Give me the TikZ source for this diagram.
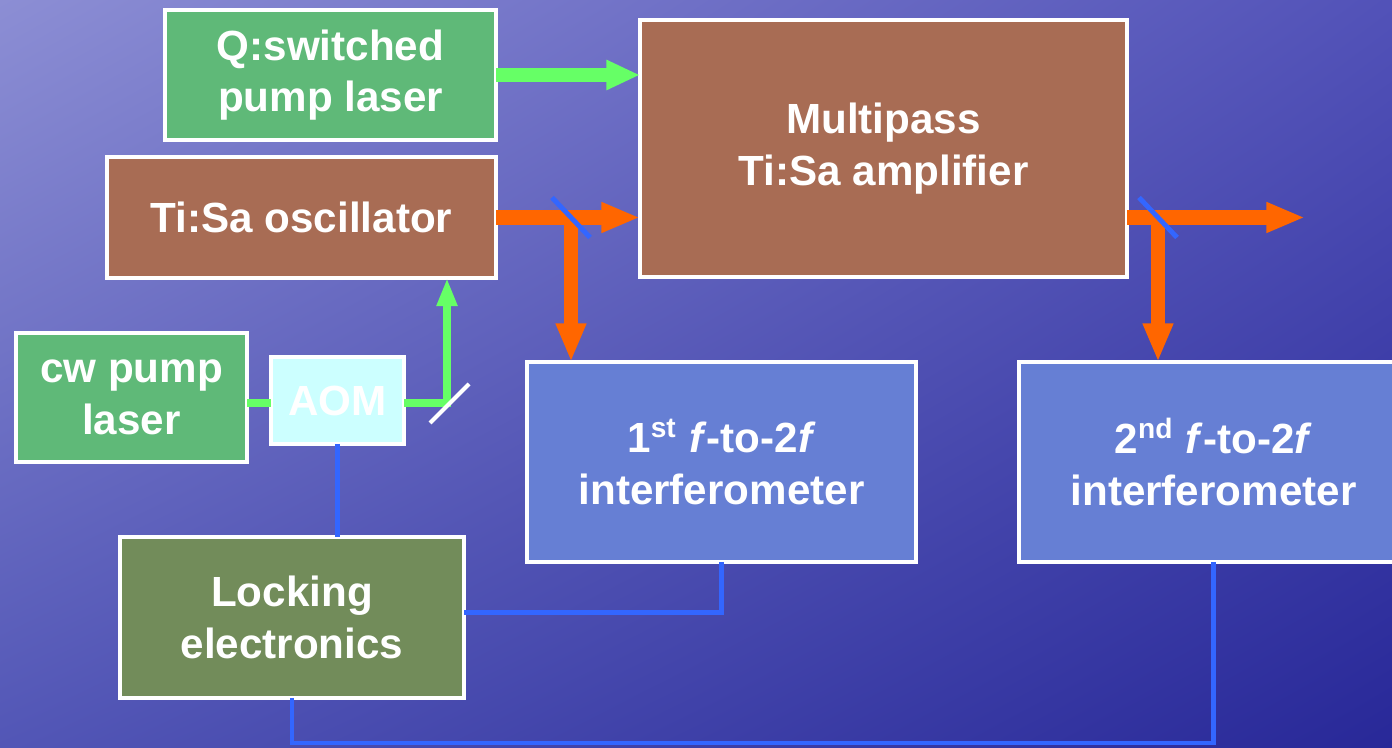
\documentclass[tikz,border=0pt]{standalone}
\usepackage{fontspec}
\setmainfont{Liberation Sans}
\usepackage{tikz}
\usepackage{xcolor}
\usetikzlibrary{arrows.meta,positioning,shadings}
\definecolor{bgul}{RGB}{140,142,212}
\definecolor{bgur}{RGB}{82,82,184}
\definecolor{bgll}{RGB}{82,86,182}
\definecolor{bglr}{RGB}{40,40,152}
\definecolor{pumpgreen}{RGB}{95,185,120}
\definecolor{tisaorange}{RGB}{168,108,84}
\definecolor{interblue}{RGB}{102,127,212}
\definecolor{lockolive}{RGB}{114,140,90}
\definecolor{aomcyan}{RGB}{204,255,255}
\definecolor{beamgreen}{RGB}{102,255,102}
\definecolor{beamorange}{RGB}{255,102,0}
\definecolor{wireblue}{RGB}{51,102,255}
\tikzstyle{block} = [
    rectangle,
    draw=white,
    line width=1.2pt,
    inner sep=0pt,
    outer sep=0pt,
    text=white,
    align=center,
    font=\bfseries\fontsize{12}{14.7}\selectfont
]
\tikzstyle{greenbeam} = [
    line width=4pt,
    draw=beamgreen,
    -{Triangle[length=9.6pt,width=8pt]}
]
\tikzstyle{pumpbeam} = [
    line width=2.3pt,
    draw=beamgreen
]
\tikzstyle{orangebeam} = [
    line width=4pt,
    draw=beamorange,
    -{Triangle[length=11pt,width=8pt]}
]
\tikzstyle{wire} = [
    line width=1.2pt,
    draw=wireblue
]
\tikzstyle{mirror} = [
    line width=1.4pt,
    draw=wireblue
]
\begin{document}
\begin{tikzpicture}
    % background
    \shade[upper left=bgul, upper right=bgur, lower left=bgll, lower right=bglr]
        (0,0) rectangle (13.92,7.48);
    \useasboundingbox (0,0) rectangle (13.92,7.48);

    % blocks
    \node[block, fill=pumpgreen, minimum width=3.31cm, minimum height=1.30cm] (qsw) at (3.305,6.73) {Q:switched\\pump laser};
    \node[block, fill=tisaorange, minimum width=3.89cm, minimum height=1.21cm] (osc) at (3.015,5.305) {Ti:Sa oscillator};
    \node[block, fill=tisaorange, minimum width=4.87cm, minimum height=2.57cm] (amp) at (8.835,5.995) {Multipass\\Ti:Sa amplifier};
    \node[block, fill=pumpgreen, minimum width=2.31cm, minimum height=1.29cm] (cw) at (1.315,3.505) {cw pump\\laser};
    \node[block, fill=aomcyan, minimum width=1.33cm, minimum height=0.87cm] (aom) at (3.375,3.475) {AOM};
    \node[block, fill=interblue, minimum width=3.89cm, minimum height=2.00cm] (int1) at (7.215,2.86) {1\textsuperscript{st} \textit{f}-to-2\textit{f}\\interferometer};
    \node[block, fill=interblue, minimum width=3.89cm, minimum height=2.00cm] (int2) at (12.135,2.86) {2\textsuperscript{nd} \textit{f}-to-2\textit{f}\\interferometer};
    \node[block, fill=lockolive, minimum width=3.44cm, minimum height=1.61cm] (lock) at (2.92,1.305) {Locking\\electronics};

    % beam points
    \coordinate (split1) at (5.71,5.305);
    \coordinate (split2) at (11.58,5.305);
    \coordinate (outbeam) at (13.05,5.305);
    \coordinate (pump) at (4.47,3.45);

    % laser beams
    \draw[greenbeam] (qsw.east) -- (qsw.east -| amp.west);
    \draw[orangebeam] (osc.east) -- (osc.east -| amp.west);
    \draw[orangebeam] ([yshift=2pt]split1) -- (split1 |- int1.north);
    \draw[orangebeam] (amp.east |- split2) -- (outbeam);
    \draw[orangebeam] ([yshift=2pt]split2) -- (split2 |- int2.north);
    \draw[pumpbeam] (cw.east |- pump) -- (aom.west |- pump);
    \draw[pumpbeam, -{Triangle[length=8pt,width=5.5pt]}] (aom.east |- pump) -| (osc.south -| pump);

    % beam splitters
    \draw[mirror] ([shift={(-0.19,0.2)}]split1) -- ([shift={(0.19,-0.2)}]split1);
    \draw[mirror] ([shift={(-0.19,0.2)}]split2) -- ([shift={(0.19,-0.2)}]split2);
    \draw[line width=1.2pt, draw=white] ([shift={(-0.17,-0.2)}]pump) -- ([shift={(0.22,0.19)}]pump);

    % electronics
    \draw[wire] (aom.south) -- (aom.south |- lock.north);
    \draw[wire] (int1.south) |- ([yshift=0.05cm]lock.east);
    \draw[wire] (lock.south) -- ++(0,-0.45) -| (int2.south);
\end{tikzpicture}
\end{document}
